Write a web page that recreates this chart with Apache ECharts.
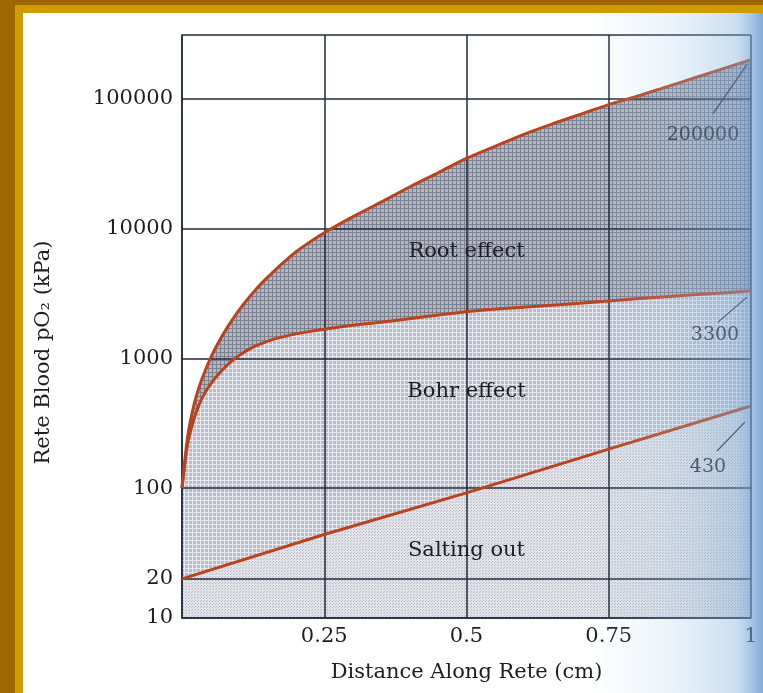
<!DOCTYPE html>
<html><head><meta charset="utf-8">
<script src="https://cdn.jsdelivr.net/npm/echarts@6/dist/echarts.min.js"></script>
<style>html,body{margin:0;padding:0;background:#fff}#c{width:763px;height:693px}</style>
</head><body><div id="c"></div>
<script>
// ---- data ----
const xTickValues = [0, 0.25, 0.5, 0.75, 1];
const yTickLabels = [10, 20, 100, 1000, 10000, 100000];
const rootX = [0, 0.01, 0.02, 0.03, 0.04, 0.05, 0.06, 0.08, 0.1, 0.12, 0.14, 0.16, 0.18, 0.2, 0.225, 0.25, 0.3, 0.35, 0.4, 0.45, 0.5, 0.55, 0.6, 0.65, 0.7, 0.75, 0.8, 0.85, 0.9, 0.95, 1];
const rootY = [100, 250, 420, 600, 790, 1000, 1230, 1740, 2340, 3020, 3800, 4620, 5560, 6600, 7900, 9300, 12300, 16000, 20900, 26900, 34700, 43000, 53000, 63800, 75900, 90200, 104700, 123000, 144500, 170000, 200000];
const bohrX = [0, 0.01, 0.02, 0.03, 0.04, 0.05, 0.06, 0.08, 0.1, 0.12, 0.14, 0.16, 0.19, 0.22, 0.25, 0.3, 0.35, 0.4, 0.5, 0.6, 0.7, 0.8, 0.9, 1];
const bohrY = [100, 220, 330, 440, 540, 630, 720, 890, 1050, 1190, 1300, 1400, 1510, 1600, 1680, 1800, 1900, 2020, 2290, 2480, 2660, 2880, 3090, 3300];
const saltX = [0, 0.25, 0.5, 0.75, 1];
const saltY = [20, 44, 92, 200, 430];
const endLabels = ['200000', '3300', '430'];
const regionNames = ['Root effect', 'Bohr effect', 'Salting out'];
const yAxisTitle = 'Rete Blood pO\u2082 (kPa)';
const xAxisTitle = 'Distance Along Rete (cm)';

// ---- styles ----
const FONT = 'DejaVu Serif';
const INK = '#1c1c22';
const GRIDC = '#23283f';
const CURVE = '#b8431c';

function pattern(size, base, ink, kind) {
  const c = document.createElement('canvas');
  c.width = c.height = size;
  const g = c.getContext('2d');
  g.fillStyle = base; g.fillRect(0, 0, size, size);
  g.fillStyle = ink;
  if (kind === 'grid') { g.fillRect(0, 0, size, 1); g.fillRect(0, 0, 1, size); }
  else { g.fillRect(0, 0, 1, 1); g.fillRect(2, 1, 1, 1); }
  return c;
}
const rootFill = { image: pattern(4, '#b3b7c2', '#7b8193', 'grid'), repeat: 'repeat' };
const bohrFill = { image: pattern(4, '#b8bcc7', '#e6e8ed', 'grid'), repeat: 'repeat' };
const saltFill = { image: pattern(3, '#e1e3e8', '#b9bcc5', 'dots'), repeat: 'repeat' };

function pairs(xs, ys) { return xs.map((x, i) => [x, ys[i]]); }

const chart = echarts.init(document.getElementById('c'), null, { renderer: 'canvas' });

const fillSeries = (name, xs, ys, fill, z, sm) => ({
  name: name + ' fill', type: 'line', data: pairs(xs, ys), smooth: sm,
  showSymbol: false, silent: true, z: z,
  lineStyle: { width: 0, opacity: 0 },
  areaStyle: { color: fill, opacity: 1, origin: 'start' }
});
const curveSeries = (name, xs, ys, sm) => ({
  name: name, type: 'line', data: pairs(xs, ys), smooth: sm,
  showSymbol: false, silent: true, z: 6,
  lineStyle: { width: 3, color: CURVE }
});

chart.setOption({
  animation: false,
  backgroundColor: '#ffffff',
  grid: { left: 182, right: 12, top: 35, bottom: 75, containLabel: false },
  xAxis: {
    type: 'value', min: 0, max: 1, interval: 0.25, z: 4,
    axisLine: { show: true, lineStyle: { color: GRIDC, width: 1.5 } },
    axisTick: { show: false },
    splitLine: { show: true, lineStyle: { color: GRIDC, width: 1.5 } },
    axisLabel: {
      showMinLabel: false, color: INK, fontFamily: FONT, fontSize: 21, margin: 8,
      formatter: v => String(v)
    },
    name: xAxisTitle, nameLocation: 'middle', nameGap: 44,
    nameTextStyle: { color: INK, fontFamily: FONT, fontSize: 21 }
  },
  yAxis: {
    type: 'log', logBase: 10, min: 10, max: 310000, z: 4,
    axisLine: { show: true, lineStyle: { color: GRIDC, width: 1.5 } },
    axisTick: { show: false, customValues: yTickLabels.concat([310000]) },
    splitLine: { show: true, lineStyle: { color: GRIDC, width: 1.5 } },
    axisLabel: {
      customValues: yTickLabels, color: INK, fontFamily: FONT, fontSize: 21, margin: 9,
      formatter: v => String(Math.round(v))
    },
    name: yAxisTitle, nameLocation: 'middle', nameGap: 128,
    nameTextStyle: { color: INK, fontFamily: FONT, fontSize: 21, padding: [0, 52, 0, 0] }
  },
  series: [
    fillSeries('Root effect', rootX, rootY, rootFill, 1, 0.3),
    fillSeries('Bohr effect', bohrX, bohrY, bohrFill, 2, 0.3),
    fillSeries('Salting out', saltX, saltY, saltFill, 3, false),
    curveSeries('200000', rootX, rootY, 0.3),
    curveSeries('3300', bohrX, bohrY, 0.3),
    curveSeries('430', saltX, saltY, false)
  ]
});

// annotations placed in data coordinates
const regionAnchors = [[0.5, 6600], [0.5, 560], [0.5, 33]];
const ends = [[1, rootY[rootY.length - 1]], [1, bohrY[bohrY.length - 1]], [1, saltY[saltY.length - 1]]];
const g = [];
regionNames.forEach((t, i) => {
  const p = chart.convertToPixel({ gridIndex: 0 }, regionAnchors[i]);
  g.push({ type: 'text', x: p[0], y: p[1], z: 10, silent: true,
    style: { text: t, fill: INK, font: '21px "' + FONT + '"', align: 'center', verticalAlign: 'middle' } });
});
// [leader start dx, dy, leader end dx, dy, label centre dx, dy]
const leaderOff = [[-4, 5, -38, 54, -48, 75], [-4, 6, -33, 31, -36, 44], [-6, 16, -34, 45, -43, 61]];
endLabels.forEach((t, i) => {
  const p = chart.convertToPixel({ gridIndex: 0 }, ends[i]);
  const o = leaderOff[i];
  g.push({ type: 'line', z: 10, silent: true,
    shape: { x1: p[0] + o[0], y1: p[1] + o[1], x2: p[0] + o[2], y2: p[1] + o[3] },
    style: { stroke: '#2a2a30', lineWidth: 1.2 } });
  g.push({ type: 'text', z: 10, silent: true,
    x: p[0] + o[4], y: p[1] + o[5],
    style: { text: t, fill: '#2a2a35', font: '19px "' + FONT + '"', align: 'center', verticalAlign: 'middle' } });
});
// page frame & scan tint
g.push({ type: 'rect', z: 20, silent: true, shape: { x: 590, y: 13, width: 173, height: 680 },
  style: { fill: new echarts.graphic.LinearGradient(0, 0, 1, 0, [
    { offset: 0, color: 'rgba(170,205,235,0)' },
    { offset: 0.45, color: 'rgba(160,198,232,0.2)' },
    { offset: 0.85, color: 'rgba(130,175,220,0.42)' },
    { offset: 0.93, color: 'rgba(110,160,210,0.6)' },
    { offset: 1, color: 'rgba(95,145,200,0.78)' }
  ]) } });
g.push({ type: 'rect', z: 30, silent: true, shape: { x: 0, y: 0, width: 763, height: 5 }, style: { fill: '#9f6700' } });
g.push({ type: 'rect', z: 30, silent: true, shape: { x: 0, y: 0, width: 15, height: 693 }, style: { fill: '#9f6700' } });
g.push({ type: 'rect', z: 30, silent: true, shape: { x: 15, y: 5, width: 748, height: 8 }, style: { fill: '#cf9c00' } });
g.push({ type: 'rect', z: 30, silent: true, shape: { x: 15, y: 5, width: 8, height: 688 }, style: { fill: '#cf9c00' } });
chart.setOption({ graphic: g });
</script>
</body></html>
